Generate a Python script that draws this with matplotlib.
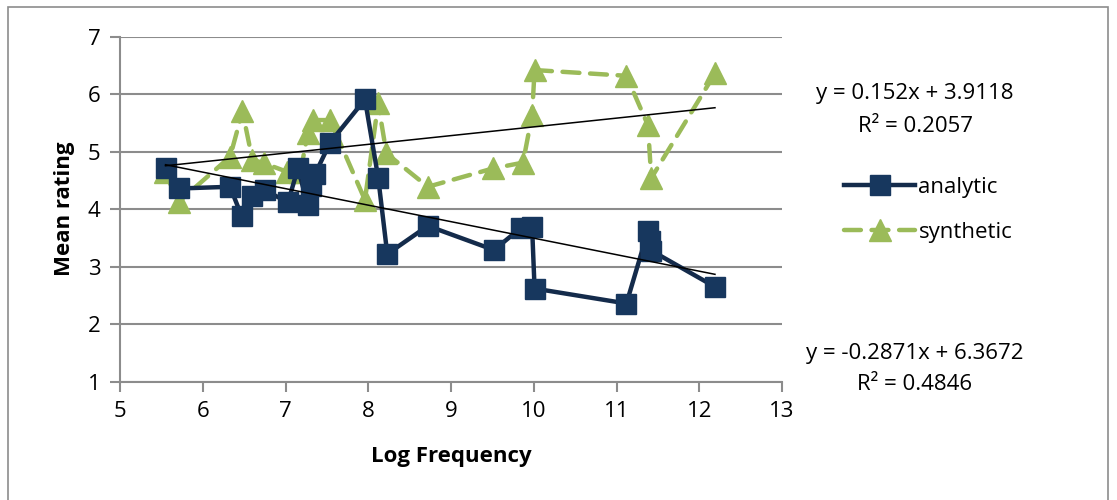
import matplotlib
matplotlib.use("Agg")
import matplotlib.pyplot as plt
import matplotlib.patches as mpatches
import numpy as np

plt.rcParams['font.family'] = ['Open Sans', 'DejaVu Sans']

# Data
analytic_x = [5.55, 5.71, 6.33, 6.47, 6.60, 6.75, 7.03, 7.15, 7.27, 7.31, 7.36, 7.54,
              7.96, 8.12, 8.23, 8.72, 9.52, 9.84, 9.98, 10.01, 11.12, 11.38, 11.40,
              11.42, 12.19]
analytic_y = [4.71, 4.36, 4.39, 3.88, 4.23, 4.33, 4.12, 4.71, 4.07, 4.40, 4.62, 5.16,
              5.91, 4.55, 3.22, 3.71, 3.29, 3.67, 3.69, 2.62, 2.36, 3.62, 3.45,
              3.28, 2.65]

synthetic_x = [5.54, 5.71, 6.33, 6.48, 6.60, 6.74, 7.02, 7.18, 7.27, 7.33, 7.54, 7.96,
               8.12, 8.22, 8.72, 9.51, 9.87, 9.98, 10.01, 11.12, 11.38, 11.42, 12.19]
synthetic_y = [4.65, 4.13, 4.91, 5.70, 4.86, 4.80, 4.65, 4.65, 5.32, 5.55, 5.55, 4.16,
               5.84, 4.97, 4.39, 4.71, 4.81, 5.64, 6.42, 6.32, 5.46, 4.54, 6.36]

# Linear trend lines as printed on the chart
synthetic_fit = (0.152, 3.9118, 0.2057)
analytic_fit = (-0.2871, 6.3672, 0.4846)

navy = "#17375E"
navy_line = "#142B4B"
green = "#9BBB59"
grid_gray = "#8C8C8C"
fs = 16

fig = plt.figure(figsize=(11.17, 5.0), dpi=100)
ax = fig.add_axes([120 / 1117, 1 - 381.7 / 500, (782 - 120) / 1117, (381.7 - 36.7) / 500])

ax.plot(analytic_x, analytic_y, color=navy_line, lw=3.2, marker="s", ms=14,
        mfc=navy, mec=navy, label="analytic", zorder=3)
ax.plot(synthetic_x, synthetic_y, color=green, lw=3.2, ls=(0, (3.8, 2.4)), marker="^",
        ms=15.5, mfc=green, mec=green, label="synthetic", zorder=2,
        dash_capstyle="round")

xs = np.array([min(analytic_x), max(analytic_x)])
ax.plot(xs, synthetic_fit[0] * xs + synthetic_fit[1], color="black", lw=1.1, zorder=4)
ax.plot(xs, analytic_fit[0] * xs + analytic_fit[1], color="black", lw=1.1, zorder=4)

ax.set_xlim(5, 13)
ax.set_ylim(1, 7)
ax.set_xticks(range(5, 14))
ax.set_yticks(range(1, 8))
ax.yaxis.grid(True, color=grid_gray, lw=1.5)
ax.set_axisbelow(True)
for s in ["top", "right"]:
    ax.spines[s].set_visible(False)
for s in ["left", "bottom"]:
    ax.spines[s].set_color(grid_gray)
    ax.spines[s].set_linewidth(1.5)
ax.tick_params(axis="both", colors=grid_gray, length=7, width=1.5, labelsize=fs,
               labelcolor="black")
ax.tick_params(axis="y", pad=7)
ax.tick_params(axis="x", pad=7)
ax.set_xlabel("Log Frequency", fontsize=fs, fontweight="bold", labelpad=17)
ax.set_ylabel("Mean rating", fontsize=fs, fontweight="bold", labelpad=9)

leg = ax.legend(loc="center left", bbox_to_anchor=(824 / 1117, 1 - 210 / 500),
                bbox_transform=fig.transFigure, frameon=False, fontsize=fs,
                handlelength=3.2, handletextpad=0.15, labelspacing=1.1)

fig.text(915 / 1117, 1 - 94 / 500, "y = %.3fx + %.4f" % synthetic_fit[:2],
         ha="center", va="center", fontsize=fs)
fig.text(915 / 1117, 1 - 126 / 500, "R² = %.4f" % synthetic_fit[2],
         ha="center", va="center", fontsize=fs)
fig.text(915 / 1117, 1 - 354 / 500, "y = %.4fx + %.4f" % analytic_fit[:2],
         ha="center", va="center", fontsize=fs)
fig.text(915 / 1117, 1 - 385 / 500, "R² = %.4f" % analytic_fit[2],
         ha="center", va="center", fontsize=fs)

# outer chart border
fig.patches.append(mpatches.Rectangle((7.5 / 1117, -0.02), (1108 - 7.5) / 1117, 1.02 - 7.5 / 500,
                                      transform=fig.transFigure, fill=False,
                                      edgecolor="#8C8C8C", lw=1.2))

fig.savefig("out.png", dpi=100)
